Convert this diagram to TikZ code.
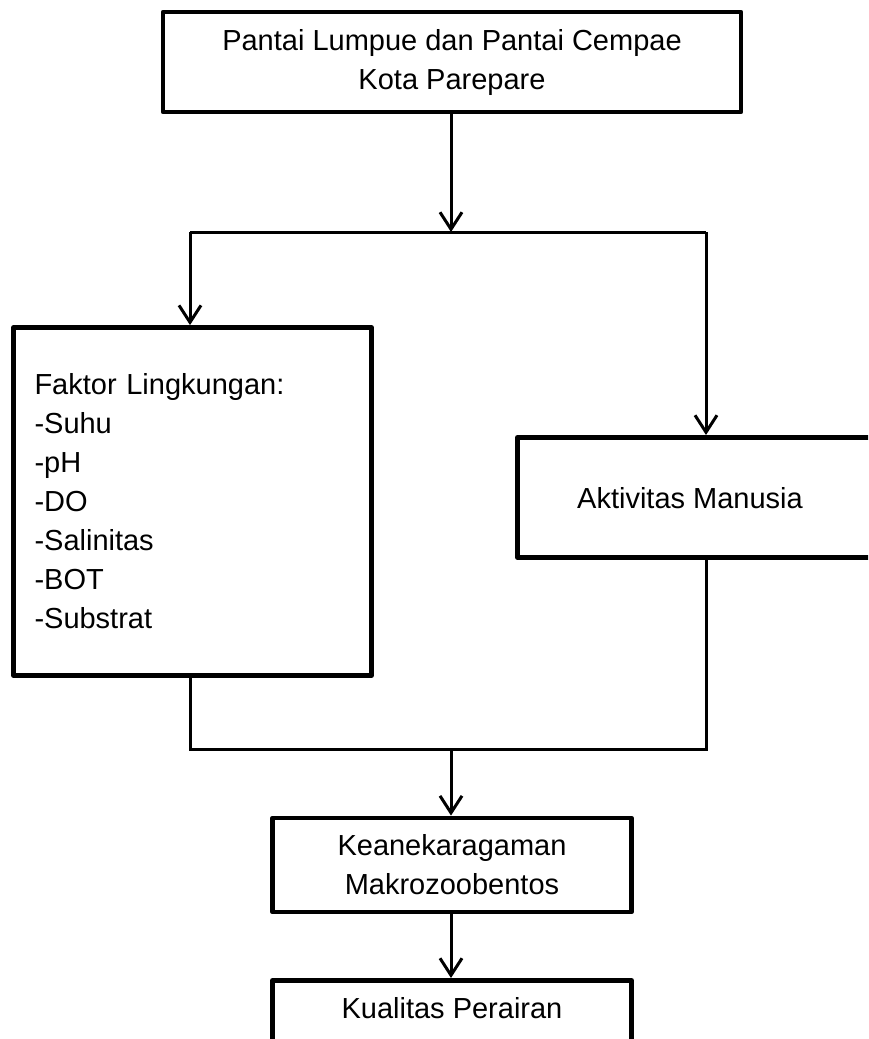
\documentclass[tikz,border=0pt]{standalone}
\usepackage{fontspec}
\setmainfont{Liberation Sans}
\usetikzlibrary{arrows.meta}
\begin{document}
\begin{tikzpicture}[x=1pt,y=-1pt,
  box/.style={draw=black, line width=4.8pt, line join=round, fill=white, inner sep=0pt, align=center,
    font=\fontsize{29pt}{39pt}\selectfont},
  txt/.style={inner sep=0pt, align=center, font=\fontsize{29pt}{39pt}\selectfont},
  conn/.style={draw=black, line width=3pt, line join=miter},
  arr/.style={conn, -{Straight Barb[length=17pt,width=22pt,line width=3pt]}}]
\useasboundingbox (0,0) rectangle (868,1039);
\clip (0,0) rectangle (868,1039);
% boxes
\node[box, minimum width=578pt, minimum height=100pt] (top) at (452,62) {Pantai Lumpue dan Pantai Cempae\\Kota Parepare};
\node[box, minimum width=358pt, minimum height=348pt, text width=316pt, align=left] (fl) at (192.5,501.5)
  {Faktor Lingkungan:\\-Suhu\\-pH\\-DO\\-Salinitas\\-BOT\\-Substrat};
\node[box, minimum width=400pt, minimum height=120pt, anchor=north west] (am) at (515,435) {};
\node[txt] (amt) at (690,498) {Aktivitas Manusia};
\node[box, minimum width=359pt, minimum height=94pt] (km) at (452,865) {Keanekaragaman\\Makrozoobentos};
\node[box, minimum width=359pt, minimum height=110pt, anchor=north] (kp) at (452,978) {};
\node[txt] (kpt) at (452,1008) {Kualitas Perairan};
% coordinates
\coordinate (split) at (451,232);
\coordinate (sl) at (190,232);
\coordinate (sr) at (706,232);
\coordinate (ml) at (190,749);
\coordinate (mr) at (706,749);
\coordinate (merge) at (451,749);
% connectors
\draw[arr] (top.south -| split) -- (split);
\draw[conn] (sl) -- (sr);
\draw[arr] (sl) -- (sl |- fl.north);
\draw[arr] (sr) -- (sr |- am.north);
\draw[conn] (fl.south -| ml) -- (ml) -- (mr) -- (am.south -| mr);
\draw[arr] (merge) -- (merge |- km.north);
\draw[arr] (km.south -| merge) -- (merge |- kp.north);
\end{tikzpicture}
\end{document}
